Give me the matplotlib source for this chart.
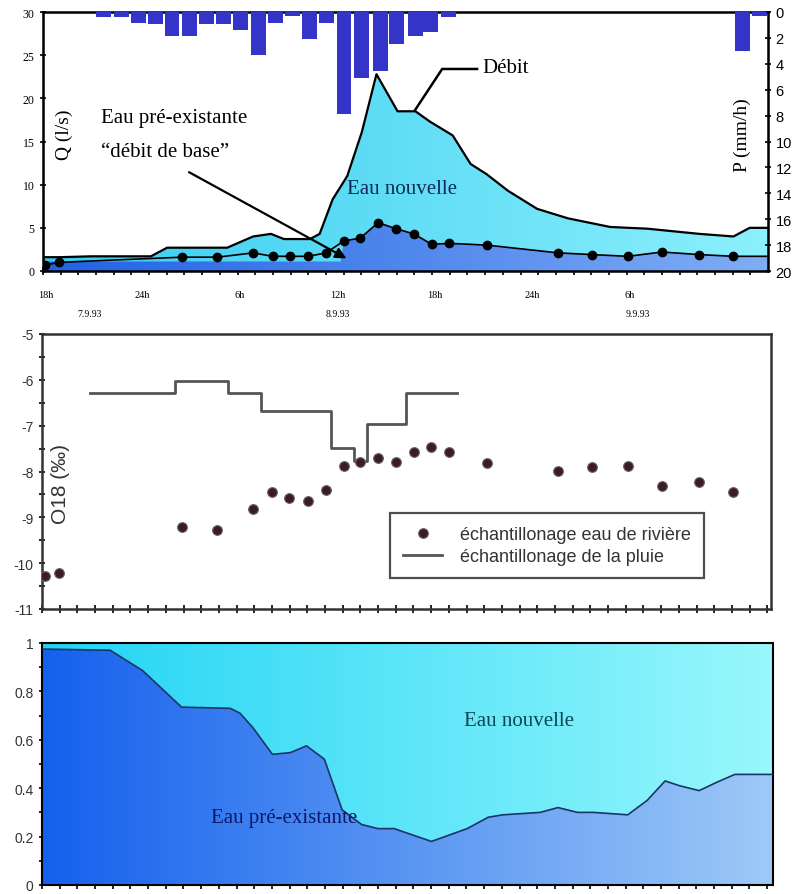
import numpy as np
import matplotlib
matplotlib.use("Agg")
import matplotlib.pyplot as plt
import matplotlib.transforms as mtransforms

plt.rcParams["axes.unicode_minus"] = False
plt.rcParams["font.family"] = ["Liberation Sans", "DejaVu Sans"]

# --- data (time in hours since 18h, 7.9.93) ---
# river samples (same times in the top and middle panels)
t_samples = [0.0, 0.85, 8.4, 10.6, 12.8, 14.0, 15.05, 16.2, 17.3, 18.4, 19.4, 20.5,
             21.6, 22.7, 23.8, 24.9, 27.2, 31.6, 33.7, 35.9, 38.0, 40.3, 42.4]
q_base = [0.7, 1.0, 1.6, 1.6, 2.1, 1.7, 1.7, 1.7, 2.1, 3.5, 3.8, 5.6,
          4.9, 4.3, 3.1, 3.2, 3.0, 2.1, 1.9, 1.7, 2.2, 1.9, 1.7]
o18_river = [-10.28, -10.21, -9.21, -9.28, -8.82, -8.45, -8.58, -8.64, -8.40, -7.88, -7.79, -7.71,
             -7.79, -7.57, -7.47, -7.57, -7.81, -7.99, -7.90, -7.88, -8.32, -8.23, -8.45]

# total discharge (Débit)
t_debit = [-0.15, 0.9, 2.8, 6.5, 7.5, 11.2, 12.8, 13.9, 14.7, 16.3, 16.9, 17.7, 18.6, 19.5,
           20.4, 21.7, 22.8, 23.7, 25.1, 26.2, 27.2, 28.5, 30.3, 32.2, 34.8, 37.1,
           40.3, 42.4, 43.4, 44.55]
q_debit = [1.6, 1.6, 1.7, 1.7, 2.7, 2.7, 4.0, 4.3, 3.7, 3.7, 4.3, 8.3, 11.0, 16.1,
           22.8, 18.5, 18.5, 17.3, 15.7, 12.4, 11.2, 9.3, 7.2, 6.1, 5.1, 4.9,
           4.3, 4.0, 5.0, 5.0]

# pre-event water area in the top panel
t_base_area = [-0.15, 18.2, 18.4, 19.4, 20.5, 21.6, 22.7, 23.8, 24.9, 27.2, 31.6, 33.7,
               35.9, 38.0, 40.3, 42.4, 44.55]
q_base_area = [1.1, 1.1, 3.5, 3.8, 5.6, 4.9, 4.3, 3.1, 3.2, 3.0, 2.1, 1.9,
               1.7, 2.2, 1.9, 1.7, 1.7]

# rainfall intensity (hourly bars)
t_rain = [3.6, 4.7, 5.75, 6.8, 7.8, 8.85, 9.95, 11.0, 12.05, 13.15, 14.2, 15.25,
          16.3, 17.35, 18.4, 19.5, 20.65, 21.65, 22.8, 23.75, 24.85, 42.95, 44.0]
p_rain = [0.4, 0.4, 0.85, 0.9, 1.85, 1.85, 0.9, 0.9, 1.4, 3.3, 0.85, 0.3,
          2.1, 0.85, 7.9, 5.1, 4.55, 2.5, 1.85, 1.55, 0.4, 3.0, 0.3]

# rain O18 (step levels)
t_rain_o18 = [2.76, 8.0, 11.26, 13.3, 17.6, 19.0, 19.8, 22.2, 25.4]
o18_rain = [-6.28, -6.02, -6.28, -6.67, -7.48, -7.78, -6.96, -6.28, -6.28]

# fraction of pre-event water
t_frac = [-0.2, 4.0, 6.0, 8.4, 11.4, 12.0, 12.8, 14.0, 15.1, 16.1, 17.2, 18.3, 19.5,
          20.5, 21.5, 23.8, 26.0, 27.3, 28.2, 30.5, 31.6, 32.8, 33.8, 35.9, 37.1,
          38.2, 39.1, 40.3, 41.4, 42.5, 44.85]
frac_old = [0.975, 0.97, 0.886, 0.735, 0.73, 0.71, 0.65, 0.54, 0.547, 0.575, 0.52, 0.31, 0.25,
            0.233, 0.233, 0.18, 0.233, 0.28, 0.29, 0.30, 0.32, 0.30, 0.30, 0.29, 0.35,
            0.43, 0.41, 0.39, 0.425, 0.457, 0.457]

hour_ticks = [0, 6, 12, 18, 24, 30, 36]
hour_labels = ["18h", "24h", "6h", "12h", "18h", "24h", "6h"]
date_pos = [2.7, 18.0, 36.5]
date_labels = ["7.9.93", "8.9.93", "9.9.93"]

SERIF = "Liberation Serif"
SANS = "Liberation Sans"


def grad_fill(ax, x, y1, y2, c_left, c_right, xlim, ylim, z):
    poly = ax.fill_between(x, y1, y2, facecolor="none", edgecolor="none")
    w = np.linspace(0, 1, 256)[None, :, None]
    img = np.array(c_left)[None, None, :] * (1 - w) + np.array(c_right)[None, None, :] * w
    im = ax.imshow(img, extent=[xlim[0], xlim[1], ylim[0], ylim[1]], aspect="auto",
                   origin="lower", zorder=z, interpolation="bilinear")
    im.set_clip_path(poly.get_paths()[0], transform=ax.transData)


def minor_x(ax, xlim):
    ticks = np.arange(xlim[0], xlim[1] + 0.01, 1.09)
    ax.set_xticks(ticks, minor=True)
    ax.tick_params(axis="x", which="minor", direction="inout", length=6, width=1.2)


fig = plt.figure(figsize=(7.95, 8.95), dpi=100)

# ---------------- top panel ----------------
ax1 = fig.add_axes([43 / 795, 1 - 272 / 895, 725 / 795, 259 / 895])
xl1 = (-0.15, 44.53)
yl1 = (0, 30)
grad_fill(ax1, t_debit, 0, q_debit, (0.22, 0.80, 0.94), (0.55, 0.94, 0.99), xl1, yl1, 1)
grad_fill(ax1, t_base_area, 0, q_base_area, (0.13, 0.38, 0.90), (0.50, 0.68, 0.96), xl1, yl1, 2)
ax1.plot(t_debit, q_debit, color="black", lw=1.6, zorder=4)
ax1.plot(t_samples + [xl1[1]], q_base + [q_base[-1]], color="black", lw=1.2, zorder=4)
ax1.plot(t_samples, q_base, "o", color="black", ms=6, zorder=5)
ax1.set_xlim(xl1)
ax1.set_ylim(yl1)
ax1.set_yticks(range(0, 31, 5))
ax1.set_xticks(hour_ticks)
ax1.set_xticklabels(hour_labels, fontfamily=SERIF, fontsize=7.5)
ax1.tick_params(axis="x", which="major", length=0, pad=14)
ax1.tick_params(axis="y", direction="inout", length=5, width=1.2, labelsize=8.5)
for lab in ax1.get_yticklabels():
    lab.set_fontfamily(SERIF)
minor_x(ax1, xl1)
for s in ax1.spines.values():
    s.set_linewidth(1.8)
trans = mtransforms.blended_transform_factory(ax1.transData, ax1.transAxes)
for xp, d in zip(date_pos, date_labels):
    ax1.text(xp, -0.165, d, transform=trans, ha="center", va="center",
             fontfamily=SERIF, fontsize=7)

ax1.text(0.018, 0.53, "Q (l/s)", transform=ax1.transAxes, rotation=90, ha="left",
         va="center", fontfamily=SERIF, fontsize=14)
ax1.text(3.4, 17.8, "Eau pré-existante", fontfamily=SERIF, fontsize=15, va="center", zorder=6)
ax1.text(3.4, 13.8, "\u201cdébit de base\u201d", fontfamily=SERIF, fontsize=15, va="center", zorder=6)
ax1.annotate("", xy=(18.7, 1.3), xytext=(8.7, 11.6),
             arrowprops=dict(arrowstyle="-|>", color="black", lw=1.6, mutation_scale=16),
             zorder=6)
ax1.text(18.6, 9.6, "Eau nouvelle", fontfamily=SERIF, fontsize=15, va="center",
         color="#0d2a55", zorder=6)
ax1.plot([26.6, 24.45, 22.8], [23.4, 23.4, 18.7], color="black", lw=1.8, zorder=6)
ax1.text(26.9, 23.6, "Débit", fontfamily=SERIF, fontsize=15, va="center", zorder=6)

ax1r = ax1.twinx()
ax1r.bar(t_rain, p_rain, width=0.92, color="#3434c8", zorder=3)
ax1r.set_ylim(20, 0)
ax1r.set_yticks(range(0, 21, 2))
ax1r.tick_params(axis="y", direction="inout", length=5, width=1.2, labelsize=10.5, pad=3)
ax1r.set_xlim(xl1)
ax1r.text(0.965, 0.53, "P (mm/h)", transform=ax1r.transAxes, rotation=90, ha="center",
          va="center", fontfamily=SERIF, fontsize=14)

# ---------------- middle panel ----------------
ax2 = fig.add_axes([42 / 795, 1 - 610 / 895, 729 / 795, 275 / 895])
xl2 = (-0.2, 44.72)
ax2.step(t_rain_o18, o18_rain, where="post", color="#555555", lw=2,
         label="échantillonage de la pluie", zorder=3)
ax2.plot(t_samples, o18_river, "o", ms=7, markerfacecolor="#3e1a22",
         markeredgecolor="#666666", markeredgewidth=0.8, linestyle="none",
         label="échantillonage eau de rivière", zorder=4)
ax2.set_xlim(xl2)
ax2.set_ylim(-11, -5)
ax2.set_yticks(range(-11, -4))
ax2.set_yticks(np.arange(-10.5, -5, 1.0), minor=True)
ax2.tick_params(axis="y", which="both", direction="inout", length=5, width=1.2,
                labelsize=10, labelcolor="#333333")
ax2.set_xticks([])
minor_x(ax2, xl2)
for s in ax2.spines.values():
    s.set_linewidth(1.8)
    s.set_color("#333333")
ax2.text(0.025, 0.46, "O18 (‰)", transform=ax2.transAxes, rotation=90, ha="center",
         va="center", fontfamily=SANS, fontsize=15, color="#333333")
h, l = ax2.get_legend_handles_labels()
leg = ax2.legend(h[::-1], l[::-1], loc="lower left", bbox_to_anchor=(0.465, 0.08),
                 frameon=True, fancybox=False, edgecolor="#222222",
                 prop={"family": SANS, "size": 13}, borderpad=0.7, handlelength=2.2,
                 handletextpad=1.0, labelspacing=0.3)
leg.get_frame().set_linewidth(1.6)
for t in leg.get_texts():
    t.set_color("#333333")

# ---------------- bottom panel ----------------
ax3 = fig.add_axes([42 / 795, 1 - 886 / 895, 731 / 795, 242 / 895])
xl3 = (-0.2, 44.85)
yl3 = (0, 1)
grad_fill(ax3, t_frac, frac_old, 1, (0.13, 0.83, 0.96), (0.60, 0.97, 0.99), xl3, yl3, 1)
grad_fill(ax3, t_frac, 0, frac_old, (0.08, 0.38, 0.93), (0.62, 0.79, 0.97), xl3, yl3, 2)
ax3.plot(t_frac, frac_old, color="#1a3565", lw=1.2, zorder=3)
ax3.set_xlim(xl3)
ax3.set_ylim(yl3)
ax3.set_yticks(np.arange(0, 1.01, 0.2))
ax3.set_yticklabels(["0", "0.2", "0.4", "0.6", "0.8", "1"])
ax3.set_yticks(np.arange(0.1, 1.0, 0.2), minor=True)
ax3.tick_params(axis="y", which="both", direction="inout", length=5, width=1.2,
                labelsize=10, labelcolor="#333333")
ax3.set_xticks([])
minor_x(ax3, xl3)
for s in ax3.spines.values():
    s.set_linewidth(1.5)
ax3.text(10.2, 0.28, "Eau pré-existante", fontfamily=SERIF, fontsize=15, va="center",
         color="#0a1a6a", zorder=5)
ax3.text(25.8, 0.68, "Eau nouvelle", fontfamily=SERIF, fontsize=15, va="center",
         color="#0d4555", zorder=5)

fig.savefig("out.png", dpi=100)
